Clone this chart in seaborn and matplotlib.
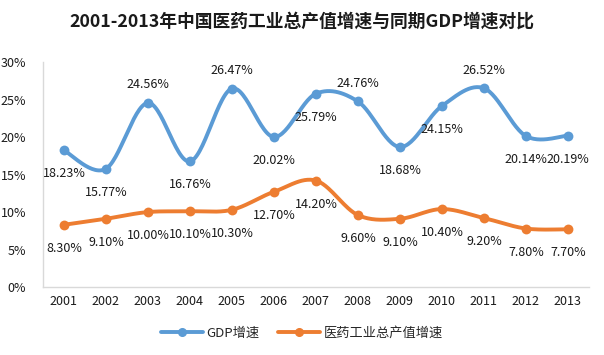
import numpy as np
import pandas as pd
import matplotlib
matplotlib.use("Agg")
import matplotlib.pyplot as plt
import seaborn as sns
from matplotlib.lines import Line2D

years = ["2001", "2002", "2003", "2004", "2005", "2006", "2007",
         "2008", "2009", "2010", "2011", "2012", "2013"]
gdp_growth = [18.23, 15.77, 24.56, 16.76, 26.47, 20.02, 25.79,
              24.76, 18.68, 24.15, 26.52, 20.14, 20.19]
pharma_growth = [8.30, 9.10, 10.00, 10.10, 10.30, 12.70, 14.20,
                 9.60, 9.10, 10.40, 9.20, 7.80, 7.70]
series_names = ["GDP增速", "医药工业总产值增速"]
yticks = [0, 5, 10, 15, 20, 25, 30]

# label placement: +1 above, -1 below
blue_place = [-1, -1, 1, -1, 1, -1, -1, 1, -1, -1, 1, -1, -1]
orange_place = [-1] * 13

sns.set_theme(style="white")
plt.rcParams['font.family'] = ['Noto Sans CJK SC', 'DejaVu Sans']

BLUE = "#5B9BD5"
ORANGE = "#ED7D31"


def smooth(y, n=30):
    y = np.asarray(y, dtype=float)
    x = np.arange(len(y), dtype=float)
    xs, ys = [], []
    pts = np.column_stack([x, y])
    P = np.vstack([pts[0], pts, pts[-1]])
    t = 1.0 / 6.0
    for i in range(1, len(P) - 2):
        p0, p1, p2, p3 = P[i - 1], P[i], P[i + 1], P[i + 2]
        c1 = p1 + (p2 - p0) * t
        c2 = p2 - (p3 - p1) * t
        s = np.linspace(0, 1, n, endpoint=(i == len(P) - 3))
        b = ((1 - s) ** 3)[:, None] * p1 + (3 * (1 - s) ** 2 * s)[:, None] * c1 \
            + (3 * (1 - s) * s ** 2)[:, None] * c2 + (s ** 3)[:, None] * p2
        xs.extend(b[:, 0]); ys.extend(b[:, 1])
    return np.array(xs), np.array(ys)


fig = plt.figure(figsize=(6.04, 3.55), dpi=100)
ax = fig.add_axes([0.071, 0.1915, 0.904, 0.6335])

idx = np.arange(len(years))
for vals, color, name, place in [(gdp_growth, BLUE, series_names[0], blue_place),
                                 (pharma_growth, ORANGE, series_names[1], orange_place)]:
    sx, sy = smooth(vals)
    sns.lineplot(x=sx, y=sy, ax=ax, color=color, linewidth=2.8, sort=False,
                 estimator=None, legend=False)
    sns.scatterplot(x=idx, y=vals, ax=ax, color=color, s=50, edgecolor=color,
                    linewidth=0, legend=False, zorder=5)
    for i, v in enumerate(vals):
        off = 13 if place[i] > 0 else -17
        ax.annotate(f"{v:.2f}%", (i, v), xytext=(0, off), textcoords="offset points",
                    ha="center", va="center", fontsize=9, color="#1a1a1a")

ax.set_xlim(-0.5, len(years) - 0.5)
ax.set_ylim(0, 30)
ax.set_xticks(idx)
ax.set_xticklabels(years, fontsize=9, color="#1a1a1a")
ax.set_yticks(yticks)
ax.set_yticklabels([f"{t}%" for t in yticks], fontsize=9, color="#1a1a1a")
ax.tick_params(axis="both", length=0)
ax.tick_params(axis="y", pad=12)
ax.tick_params(axis="x", pad=6)
for sp in ["top", "right"]:
    ax.spines[sp].set_visible(False)
ax.spines["left"].set_color("#D9D9D9")
ax.spines["bottom"].set_color("#D9D9D9")
ax.spines["left"].set_linewidth(1)
ax.spines["bottom"].set_linewidth(1)
ax.grid(False)

fig.suptitle("2001-2013年中国医药工业总产值增速与同期GDP增速对比", x=0.5, y=0.965,
             fontsize=12.8, fontweight="bold", color="#1a1a1a")

handles = [Line2D([0], [0], color=BLUE, lw=2.8, marker="o", markersize=5.5),
           Line2D([0], [0], color=ORANGE, lw=2.8, marker="o", markersize=5.5)]
fig.legend(handles, series_names, loc="center", bbox_to_anchor=(0.5, 0.062), ncol=2,
           frameon=False, fontsize=9.5, handlelength=3.2, columnspacing=1.4,
           handletextpad=0.25)

fig.savefig("out.png", dpi=100)
